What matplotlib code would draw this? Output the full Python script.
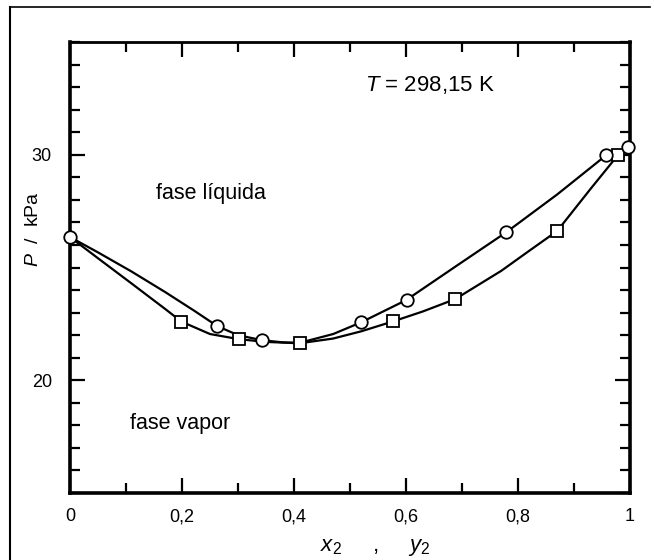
import numpy as np
import matplotlib
matplotlib.use('Agg')
import matplotlib.pyplot as plt
from matplotlib.lines import Line2D
from matplotlib.ticker import MultipleLocator, FixedLocator

plt.rcParams['font.family'] = ['Liberation Sans', 'DejaVu Sans']
plt.rcParams['mathtext.fontset'] = 'custom'
plt.rcParams['mathtext.rm'] = 'Liberation Sans'
plt.rcParams['mathtext.it'] = 'Liberation Sans:italic'

x_liq = [0.0, 0.263, 0.342, 0.519, 0.601, 0.779, 0.958, 0.997]
P_liq = [26.35, 22.40, 21.78, 22.57, 23.55, 26.58, 29.99, 30.35]
y_vap = [0.199, 0.302, 0.410, 0.577, 0.688, 0.870, 0.979]
P_vap = [22.60, 21.82, 21.64, 22.61, 23.60, 26.62, 30.00]

# smooth curves
x_bub = [0.0, 0.05, 0.11, 0.17, 0.222, 0.263, 0.30, 0.342, 0.38, 0.41, 0.47,
         0.52, 0.60, 0.69, 0.78, 0.87, 0.958, 1.0]
P_bub = [26.35, 25.67, 24.82, 23.91, 23.08, 22.40, 22.00, 21.78, 21.68, 21.66,
         22.05, 22.57, 23.55, 25.07, 26.58, 28.24, 29.99, 30.35]
y_dew = [0.0, 0.05, 0.11, 0.17, 0.199, 0.25, 0.302, 0.35, 0.41, 0.47, 0.52,
         0.577, 0.63, 0.688, 0.77, 0.82, 0.87, 0.93, 0.979, 1.0]
P_dew = [26.35, 25.41, 24.29, 23.16, 22.60, 22.05, 21.82, 21.70, 21.64, 21.85,
         22.17, 22.61, 23.05, 23.60, 24.85, 25.74, 26.62, 28.50, 30.00, 30.35]

fig = plt.figure(figsize=(6.54, 5.6), dpi=100)
ax = fig.add_axes([70/654, 1-493/560, 560/654, 451/560])

ax.plot(x_bub, P_bub, '-', color='black', lw=1.6, zorder=2)
ax.plot(y_dew, P_dew, '-', color='black', lw=1.6, zorder=2)
ax.plot(y_vap, P_vap, 's', ms=8.5, mfc='white', mec='black', mew=1.3,
        zorder=3, clip_on=False)
ax.plot(x_liq, P_liq, 'o', ms=9, mfc='white', mec='black', mew=1.3,
        zorder=4, clip_on=False)

ax.set_xlim(0, 1)
ax.set_ylim(15, 35)

ax.set_xticks([0, 0.2, 0.4, 0.6, 0.8, 1.0])
ax.set_xticklabels(['0', '0,2', '0,4', '0,6', '0,8', '1'])
ax.xaxis.set_minor_locator(MultipleLocator(0.1))
ax.yaxis.set_major_locator(FixedLocator([20, 30]))
ax.yaxis.set_minor_locator(MultipleLocator(1))

ax.tick_params(which='both', direction='in', top=True, right=True,
               width=1.6, labelsize=13)
ax.tick_params(which='major', length=11)
ax.tick_params(which='minor', length=7)
ax.tick_params(axis='x', pad=11)
ax.tick_params(axis='y', pad=13)

for side in ['left', 'bottom', 'right']:
    ax.spines[side].set_linewidth(2.6)
ax.spines['top'].set_linewidth(2.0)

ax.set_ylabel(r'$P$  /  kPa', fontsize=14, va='center')
ax.yaxis.set_label_coords(-0.066, 0.585)
ax.set_xlabel(r'$x_{2}$     ,     $y_{2}$', fontsize=16, va='center')
ax.xaxis.set_label_coords(0.545, -0.12)

ax.text(0.527, 33.1, r'$T$ = 298,15 K', fontsize=16, va='center')
ax.text(0.154, 28.3, 'fase líquida', fontsize=15.5, va='center')
ax.text(0.107, 18.1, 'fase vapor', fontsize=15.5, va='center')

# outer frame of the scanned figure
fig.add_artist(Line2D([10/654, 10/654], [0, 1-7/560], color='black', lw=1.5))
fig.add_artist(Line2D([10/654, 650/654], [1-7/560, 1-7/560], color='black', lw=1.2))

fig.savefig('out.png', dpi=100)
